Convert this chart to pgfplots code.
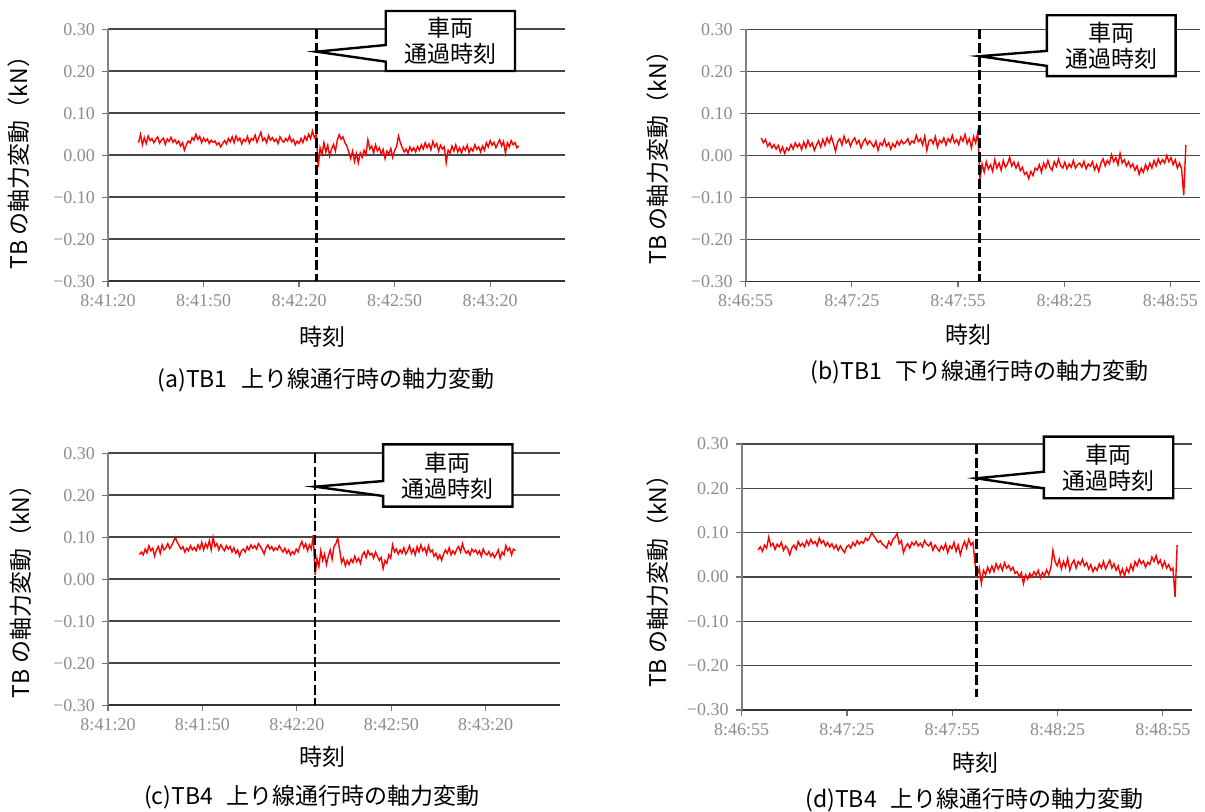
\documentclass[border=0pt]{standalone}
\usepackage{fontspec}
\setmainfont{Noto Sans CJK JP}
\newfontfamily\tickfont{Liberation Serif}
\usepackage{pgfplots}
\usepackage{pgfplotstable}
\pgfplotsset{compat=1.18}

\newcommand{\jp}{\fontsize{11.5}{13}\selectfont}

\pgfplotsset{
 panel/.style={
   scale only axis, anchor=south west,
   xmin=0, ymin=-0.3, ymax=0.3,
   axis x line*=bottom, axis y line*=left,
   every outer x axis line/.append style={-, black!80, line width=0.8pt},
   every outer y axis line/.append style={-, black!50, line width=0.8pt},
   ytick={-0.3,-0.2,-0.1,0,0.1,0.2,0.3},
   yticklabels={−0.30,−0.20,−0.10,0.00,0.10,0.20,0.30},
   xtick={0,30,60,90,120},
   ymajorgrids, major grid style={black!72, line width=0.8pt},
   tick align=outside, major tick length=3pt,
   tick style={black!55, line width=0.6pt},
   tick label style={font=\tickfont\fontsize{9}{10}\selectfont, text=black!45},
   clip=false,
   label style={font=\jp, anchor=center},
   ylabel={TB の軸力変動（kN）},
   xlabel={時刻},
 },
}
\tikzset{
 sig/.style={red, line width=0.7pt, mark=none},
 callout/.style={fill=white, line width=1.2pt},
 passline/.style={dash pattern=on 5pt off 1.8pt, line width=1.3pt},
}

\pgfplotstableread[header=false,row sep=\\]{
0.030\\0.050\\0.025\\0.042\\0.028\\0.046\\0.035\\0.040\\0.030\\0.038\\
0.044\\0.029\\0.036\\0.041\\0.026\\0.039\\0.033\\0.043\\0.031\\0.037\\
0.028\\0.034\\0.022\\0.030\\0.012\\0.025\\0.034\\0.029\\0.042\\0.036\\
0.050\\0.038\\0.045\\0.030\\0.041\\0.033\\0.039\\0.028\\0.036\\0.031\\
0.034\\0.025\\0.030\\0.020\\0.028\\0.035\\0.027\\0.040\\0.032\\0.044\\
0.030\\0.046\\0.035\\0.041\\0.027\\0.038\\0.033\\0.045\\0.029\\0.040\\
0.036\\0.048\\0.031\\0.043\\0.055\\0.035\\0.041\\0.030\\0.047\\0.036\\
0.042\\0.033\\0.039\\0.028\\0.044\\0.036\\0.031\\0.040\\0.034\\0.046\\
0.032\\0.038\\0.025\\0.034\\0.028\\0.040\\0.030\\0.045\\0.036\\0.050\\
0.040\\0.058\\0.042\\0.050\\
-0.028\\0.018\\0.002\\0.030\\0.008\\0.024\\
-0.002\\0.015\\0.026\\0.010\\0.036\\0.049\\0.038\\0.044\\0.030\\0.022\\
0.008\\-0.008\\0.010\\-0.015\\0.004\\-0.018\\0.006\\-0.005\\0.012\\0.002\\
0.037\\0.015\\0.022\\0.005\\0.025\\0.010\\0.018\\0.002\\0.014\\-0.008\\
0.010\\0.003\\0.016\\-0.005\\0.012\\0.020\\0.046\\0.030\\0.018\\0.008\\
0.015\\0.005\\0.020\\0.010\\0.018\\0.008\\0.021\\0.012\\0.025\\0.015\\
0.030\\0.018\\0.027\\0.013\\0.033\\0.020\\0.028\\0.010\\0.024\\0.015\\
0.020\\-0.018\\0.012\\0.005\\0.022\\0.010\\0.025\\0.008\\0.018\\0.005\\
0.020\\0.012\\0.024\\0.006\\0.017\\0.010\\0.025\\0.014\\0.020\\0.008\\
0.022\\0.012\\0.030\\0.020\\0.035\\0.024\\0.031\\0.018\\0.028\\0.037\\
0.022\\0.033\\0.005\\0.030\\0.020\\0.035\\0.025\\0.030\\0.018\\0.022\\
}\tA

\pgfplotstableread[header=false,row sep=\\]{
0.042\\0.030\\0.038\\0.022\\0.030\\0.018\\0.026\\0.015\\0.024\\0.008\\
0.020\\0.005\\0.018\\0.012\\0.026\\0.015\\0.030\\0.020\\0.028\\0.014\\
0.032\\0.018\\0.036\\0.022\\0.030\\0.012\\0.025\\0.035\\0.020\\0.038\\
0.024\\0.042\\0.030\\0.045\\0.028\\0.010\\0.033\\0.040\\0.025\\0.046\\
0.030\\0.038\\0.022\\0.035\\0.042\\0.028\\0.036\\0.018\\0.032\\0.040\\
0.026\\0.035\\0.028\\0.020\\0.034\\0.012\\0.030\\0.024\\0.038\\0.022\\
0.030\\0.015\\0.028\\0.020\\0.034\\0.025\\0.036\\0.028\\0.032\\0.040\\
0.026\\0.035\\0.030\\0.048\\0.033\\0.040\\0.025\\0.046\\0.012\\0.035\\
0.038\\0.028\\0.045\\0.020\\0.036\\0.030\\0.042\\0.025\\0.040\\0.032\\
0.048\\0.030\\0.038\\0.026\\0.044\\0.034\\0.050\\0.028\\0.040\\0.018\\
0.045\\0.030\\0.056\\
-0.058\\-0.020\\-0.040\\-0.015\\-0.032\\-0.022\\-0.038\\
-0.010\\-0.030\\-0.018\\-0.035\\-0.012\\-0.028\\-0.020\\-0.004\\-0.025\\-0.015\\
-0.030\\-0.018\\-0.036\\-0.028\\-0.045\\-0.040\\-0.055\\-0.038\\-0.048\\-0.030\\
-0.035\\-0.022\\-0.040\\-0.018\\-0.030\\-0.012\\-0.028\\-0.035\\-0.015\\-0.026\\
-0.008\\-0.024\\-0.030\\-0.016\\-0.032\\-0.020\\-0.028\\-0.012\\-0.030\\-0.022\\
-0.018\\-0.028\\-0.014\\-0.032\\-0.020\\-0.026\\-0.015\\-0.034\\-0.022\\-0.038\\
-0.018\\-0.008\\-0.025\\-0.012\\-0.020\\0.002\\-0.015\\-0.005\\-0.022\\0.005\\
-0.018\\-0.010\\-0.025\\-0.015\\-0.028\\-0.020\\-0.035\\-0.025\\-0.045\\-0.030\\
-0.040\\-0.022\\-0.035\\-0.018\\-0.030\\-0.012\\-0.025\\-0.008\\-0.020\\-0.010\\
-0.018\\0.000\\-0.015\\-0.005\\-0.022\\-0.010\\-0.030\\-0.018\\-0.032\\-0.095\\
0.025\\
}\tB

\pgfplotstableread[header=false,row sep=\\]{
0.059\\0.065\\0.058\\0.072\\0.063\\0.080\\0.068\\0.074\\0.055\\0.070\\
0.078\\0.062\\0.082\\0.070\\0.075\\0.085\\0.073\\0.080\\0.090\\0.100\\
0.088\\0.080\\0.072\\0.078\\0.065\\0.074\\0.068\\0.080\\0.070\\0.076\\
0.068\\0.082\\0.072\\0.088\\0.070\\0.085\\0.075\\0.092\\0.070\\0.100\\
0.078\\0.085\\0.070\\0.082\\0.075\\0.068\\0.080\\0.072\\0.078\\0.065\\
0.075\\0.062\\0.070\\0.055\\0.068\\0.072\\0.065\\0.078\\0.070\\0.082\\
0.074\\0.080\\0.072\\0.085\\0.078\\0.070\\0.060\\0.075\\0.082\\0.072\\
0.078\\0.068\\0.075\\0.070\\0.080\\0.072\\0.065\\0.074\\0.062\\0.070\\
0.058\\0.066\\0.060\\0.072\\0.065\\0.080\\0.090\\0.075\\0.085\\0.068\\
0.082\\0.072\\0.105\\
0.010\\0.050\\0.030\\0.068\\0.045\\0.060\\0.035\\
0.055\\0.070\\0.048\\0.078\\0.085\\0.098\\0.070\\0.040\\0.050\\0.032\\
0.045\\0.035\\0.048\\0.040\\0.055\\0.042\\0.050\\0.038\\0.058\\0.065\\
0.052\\0.068\\0.058\\0.062\\0.050\\0.065\\0.055\\0.045\\0.052\\0.025\\
0.045\\0.038\\0.058\\0.050\\0.082\\0.065\\0.072\\0.060\\0.070\\0.062\\
0.075\\0.060\\0.068\\0.080\\0.062\\0.072\\0.058\\0.078\\0.065\\0.082\\
0.068\\0.075\\0.060\\0.080\\0.065\\0.070\\0.055\\0.062\\0.048\\0.058\\
0.045\\0.060\\0.070\\0.062\\0.075\\0.058\\0.068\\0.060\\0.072\\0.078\\
0.065\\0.085\\0.070\\0.062\\0.068\\0.058\\0.072\\0.065\\0.070\\0.060\\
0.068\\0.055\\0.072\\0.062\\0.058\\0.066\\0.055\\0.062\\0.052\\0.060\\
0.070\\0.050\\0.065\\0.058\\0.080\\0.068\\0.075\\0.058\\0.072\\0.068\\
}\tC

\pgfplotstableread[header=false,row sep=\\]{
0.061\\0.068\\0.058\\0.072\\0.065\\0.090\\0.070\\0.076\\0.062\\0.074\\
0.068\\0.078\\0.060\\0.070\\0.064\\0.050\\0.066\\0.072\\0.062\\0.080\\
0.070\\0.076\\0.068\\0.082\\0.072\\0.085\\0.075\\0.080\\0.070\\0.088\\
0.076\\0.082\\0.070\\0.078\\0.068\\0.075\\0.064\\0.072\\0.060\\0.070\\
0.062\\0.055\\0.068\\0.072\\0.065\\0.078\\0.070\\0.082\\0.074\\0.080\\
0.076\\0.088\\0.082\\0.090\\0.100\\0.092\\0.085\\0.078\\0.082\\0.074\\
0.070\\0.065\\0.080\\0.072\\0.085\\0.090\\0.098\\0.075\\0.082\\0.055\\
0.068\\0.075\\0.065\\0.078\\0.072\\0.080\\0.070\\0.076\\0.068\\0.082\\
0.074\\0.070\\0.078\\0.060\\0.072\\0.065\\0.058\\0.070\\0.062\\0.075\\
0.055\\0.070\\0.064\\0.078\\0.058\\0.072\\0.050\\0.068\\0.080\\0.065\\
0.085\\0.072\\0.078\\0.030\\
0.002\\0.020\\-0.015\\0.015\\0.005\\0.022\\
0.010\\0.025\\0.012\\0.030\\0.018\\0.028\\0.015\\0.032\\0.020\\0.026\\
0.015\\0.022\\0.008\\0.012\\0.000\\0.010\\-0.015\\0.005\\-0.005\\0.008\\
0.000\\0.012\\0.004\\0.015\\-0.002\\0.010\\0.003\\0.016\\0.005\\0.020\\
0.060\\0.035\\0.025\\0.040\\0.018\\0.035\\0.022\\0.042\\0.015\\0.030\\
0.038\\0.020\\0.035\\0.028\\0.040\\0.025\\0.032\\0.018\\0.028\\0.012\\
0.022\\0.015\\0.030\\0.020\\0.035\\0.018\\0.028\\0.038\\0.020\\0.030\\
0.015\\0.025\\0.005\\0.018\\0.002\\0.020\\0.010\\0.028\\0.015\\0.035\\
0.025\\0.040\\0.030\\0.036\\0.022\\0.033\\0.028\\0.045\\0.035\\0.048\\
0.030\\0.038\\0.022\\0.035\\0.020\\0.028\\0.015\\0.020\\-0.045\\0.072\\
}\tD

\begin{document}
\begin{tikzpicture}
\useasboundingbox (0,0) rectangle (602.5pt,406pt);

% (a)
\begin{axis}[panel, at={(54pt,265.35pt)}, width=228.5pt, height=126pt, xmax=143.5,
  xticklabels={8:41:20,8:41:50,8:42:20,8:42:50,8:43:20},
  xlabel style={at={(axis description cs:0.47,-0.221)}},
  ylabel style={at={(axis description cs:-0.195,0.493)}}]
\addplot[sig] table[x expr={9.6+0.6*\coordindex}, y index=0] {\tA};
\draw[passline] (axis cs:65.5,0.3) -- (axis cs:65.5,-0.3);
\draw[callout] (axis cs:87.2,0.3436) -- (axis cs:127.8,0.3436) -- (axis cs:127.8,0.2007) -- (axis cs:87.2,0.2007) -- (axis cs:87.2,0.2229) -- (axis cs:65.5,0.2467) -- (axis cs:87.2,0.2626) -- cycle;
\node[align=center, font=\jp] at (axis cs:107.5,0.2721) {車両\\通過時刻};
\end{axis}

% (b)
\begin{axis}[panel, at={(372.85pt,265.25pt)}, width=227.15pt, height=126pt, xmax=128.4,
  xticklabels={8:46:55,8:47:25,8:47:55,8:48:25,8:48:55},
  xlabel style={at={(axis description cs:0.49,-0.212)}},
  ylabel style={at={(axis description cs:-0.194,0.514)}}]
\addplot[sig] table[x expr={4.4+0.6*\coordindex}, y index=0] {\tB};
\draw[passline] (axis cs:66.1,0.3) -- (axis cs:66.1,-0.3);
\draw[callout] (axis cs:85.1,0.334) -- (axis cs:121.5,0.334) -- (axis cs:121.5,0.189) -- (axis cs:85.1,0.189) -- (axis cs:85.1,0.2133) -- (axis cs:66.1,0.2364) -- (axis cs:85.1,0.249) -- cycle;
\node[align=center, font=\jp] at (axis cs:103.3,0.2615) {車両\\通過時刻};
\end{axis}

% (c)
\begin{axis}[panel, at={(54pt,53.35pt)}, width=226pt, height=126pt, xmax=143.6,
  xticklabels={8:41:20,8:41:50,8:42:20,8:42:50,8:43:20},
  xlabel style={at={(axis description cs:0.475,-0.204)}},
  ylabel style={at={(axis description cs:-0.192,0.474)}}]
\addplot[sig] table[x expr={10+0.6*\coordindex}, y index=0] {\tC};
\draw[passline] (axis cs:65.8,0.3) -- (axis cs:65.8,-0.3);
\draw[callout] (axis cs:87.4,0.3214) -- (axis cs:128.5,0.3214) -- (axis cs:128.5,0.1729) -- (axis cs:87.4,0.1729) -- (axis cs:87.4,0.1983) -- (axis cs:65.8,0.2205) -- (axis cs:87.4,0.234) -- cycle;
\node[align=center, font=\jp] at (axis cs:107.95,0.2472) {車両\\通過時刻};
\end{axis}

% (d)
\begin{axis}[panel, at={(370.85pt,51pt)}, width=225pt, height=133pt, xmax=128.25,
  xticklabels={8:46:55,8:47:25,8:47:55,8:48:25,8:48:55},
  xlabel style={at={(axis description cs:0.52,-0.2)}},
  ylabel style={at={(axis description cs:-0.186,0.505)}}]
\addplot[sig] table[x expr={4.7+0.6*\coordindex}, y index=0] {\tD};
\draw[passline] (axis cs:66.9,0.3) -- (axis cs:66.9,-0.27);
\draw[callout] (axis cs:86.1,0.3165) -- (axis cs:123.0,0.3165) -- (axis cs:123.0,0.1775) -- (axis cs:86.1,0.1775) -- (axis cs:86.1,0.2) -- (axis cs:66.9,0.2226) -- (axis cs:86.1,0.2375) -- cycle;
\node[align=center, font=\jp] at (axis cs:104.55,0.247) {車両\\通過時刻};
\end{axis}

% captions
\node[font=\jp] at (163pt,216pt) {(a)TB1\hspace{0.6em}上り線通行時の軸力変動};
\node[font=\jp] at (489.85pt,220.15pt) {(b)TB1\hspace{0.6em}下り線通行時の軸力変動};
\node[font=\jp] at (156pt,7.65pt) {(c)TB4\hspace{0.6em}上り線通行時の軸力変動};
\node[font=\jp] at (487.25pt,6pt) {(d)TB4\hspace{0.6em}上り線通行時の軸力変動};
\end{tikzpicture}
\end{document}
